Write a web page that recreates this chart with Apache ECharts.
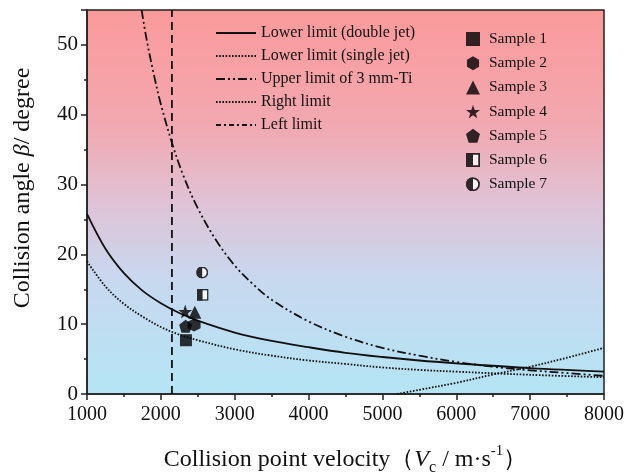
<!DOCTYPE html>
<html>
<head>
<meta charset="utf-8">
<script src="https://cdn.jsdelivr.net/npm/echarts@6/dist/echarts.min.js"></script>
<style>
html,body{margin:0;padding:0;background:#fff;}
#chart{width:627px;height:473px;}
</style>
</head>
<body>
<div id="chart"></div>
<script>
// ---- data ----
const xTicks = [1000, 2000, 3000, 4000, 5000, 6000, 7000, 8000];
const yTicks = [0, 10, 20, 30, 40, 50];

const vDouble = [1000, 1250, 1500, 1750, 2000, 2250, 2500, 3000, 3500, 4000, 4500, 5000, 5500, 6000, 7000, 8000];
const betaDouble = [25.8, 20.8, 17.3, 14.8, 13.0, 11.6, 10.5, 8.8, 7.6, 6.7, 5.9, 5.3, 4.8, 4.4, 3.7, 3.2];

const vSingle = [1000, 1250, 1500, 1750, 2000, 2250, 2500, 3000, 3500, 4000, 4500, 5000, 5500, 6000, 7000, 8000];
const betaSingle = [19.0, 15.4, 12.9, 11.1, 9.6, 8.5, 7.7, 6.4, 5.5, 4.8, 4.3, 3.8, 3.45, 3.2, 2.75, 2.4];

const vUpper = [1740, 1800, 1900, 2000, 2150, 2300, 2500, 2750, 3000, 3250, 3500, 4000, 4500, 5000, 5500, 6000, 6500, 7000, 7500, 8000];
const betaUpper = [55, 51.2, 46.0, 41.5, 36.0, 31.4, 26.6, 22.0, 18.4, 15.7, 13.5, 10.4, 8.2, 6.6, 5.5, 4.6, 3.9, 3.4, 3.0, 2.6];

const vRight = [5200, 5500, 6000, 6500, 7000, 7500, 8000];
const betaRight = [0, 0.6, 1.6, 2.8, 3.9, 5.2, 6.6];

const vLeft = [2150, 2150];
const betaLeft = [0, 55];

const sampleNames = ['Sample 1', 'Sample 2', 'Sample 3', 'Sample 4', 'Sample 5', 'Sample 6', 'Sample 7'];
const sampleV = [2340, 2450, 2460, 2330, 2335, 2565, 2560];
const sampleBeta = [7.7, 9.9, 11.7, 11.8, 9.7, 14.2, 17.4];

const lineNames = ['Lower limit (double jet)', 'Lower limit (single jet)', 'Upper limit of 3 mm-Ti', 'Right limit', 'Left limit'];

// ---- helpers ----
const zip = (xs, ys) => xs.map((x, i) => [x, ys[i]]);
const FONT = '"Liberation Serif", "Times New Roman", serif';

const halfSquare = 'image://data:image/svg+xml;utf8,' + encodeURIComponent(
  "<svg xmlns='http://www.w3.org/2000/svg' width='24' height='24' viewBox='0 0 24 24'>" +
  "<rect x='1.5' y='1.5' width='21' height='21' fill='white' stroke='black' stroke-width='3'/>" +
  "<rect x='0' y='0' width='12' height='24' fill='black'/></svg>");
const halfCircle = 'image://data:image/svg+xml;utf8,' + encodeURIComponent(
  "<svg xmlns='http://www.w3.org/2000/svg' width='24' height='24' viewBox='0 0 24 24'>" +
  "<circle cx='12' cy='12' r='10.5' fill='white' stroke='black' stroke-width='3'/>" +
  "<path d='M12 0 A12 12 0 0 0 12 24 Z' fill='black'/></svg>");

const sampleSymbols = [
  'rect',
  'path://M50,0 L93.3,25 L93.3,75 L50,100 L6.7,75 L6.7,25 Z',
  'triangle',
  'path://M50,0 L61.8,35.1 L98.1,35.1 L68.8,56.8 L79.4,91.9 L50,70.4 L20.6,91.9 L31.2,56.8 L1.9,35.1 L38.2,35.1 Z',
  'path://M50,0 L100,38 L81,100 L19,100 L0,38 Z',
  halfSquare,
  halfCircle
];
const sampleSizes = [12, 13, 13, 14, 13, 12, 12];

const lineStyles = [
  {type: 'solid', width: 1.8},
  {type: [1.6, 1.6], width: 1.8},
  {type: [9, 3, 2, 3, 2, 3], width: 1.8},
  {type: [1.6, 1.6], width: 1.8},
  {type: [8, 5], width: 1.8}
];
const lineData = [
  zip(vDouble, betaDouble),
  zip(vSingle, betaSingle),
  zip(vUpper, betaUpper),
  zip(vRight, betaRight),
  zip(vLeft, betaLeft)
];

const series = [];
lineNames.forEach((n, i) => {
  series.push({
    name: n, type: 'line', data: lineData[i],
    symbol: 'none',
    smooth: i < 4 ? 0.35 : false,
    lineStyle: Object.assign({color: '#111'}, lineStyles[i]),
    itemStyle: {color: '#111'}, z: 2, clip: true
  });
});
sampleNames.forEach((n, i) => {
  series.push({
    name: n, type: 'scatter', data: [[sampleV[i], sampleBeta[i]]],
    symbol: sampleSymbols[i], symbolSize: sampleSizes[i],
    itemStyle: {color: '#000'}, z: 5
  });
});

const chart = echarts.init(document.getElementById('chart'), null, {renderer: 'canvas'});
chart.setOption({
  animation: false,
  backgroundColor: '#fff',
  textStyle: {fontFamily: FONT, color: '#111'},
  grid: {
    left: 87, right: 23, top: 10, bottom: 79, show: true,
    outerBoundsMode: 'none', containLabel: false,
    borderColor: '#222', borderWidth: 1.5,
    backgroundColor: new echarts.graphic.LinearGradient(0, 0, 0, 1, [
      {offset: 0, color: '#fb9a9b'},
      {offset: 0.3, color: '#f2a8b0'},
      {offset: 0.5, color: '#e0c2d5'},
      {offset: 0.7, color: '#c8d8ef'},
      {offset: 1, color: '#b4e5f5'}
    ])
  },
  legend: [
    {
      data: lineNames.map((n, i) => i === 4
        ? {name: n, lineStyle: {type: [5, 3, 2, 3], width: 1.8, color: '#111'}}
        : {name: n}),
      itemStyle: {opacity: 0, color: 'rgba(0,0,0,0)', borderWidth: 0},
      orient: 'vertical', left: 210, top: 20, itemWidth: 40, itemHeight: 14, itemGap: 7,
      textStyle: {fontFamily: FONT, fontSize: 16, lineHeight: 14, color: '#111'}, selectedMode: false
    },
    {
      data: sampleNames, orient: 'vertical', left: 461, top: 26, itemWidth: 14, itemHeight: 14, itemGap: 8.2,
      textStyle: {fontFamily: FONT, fontSize: 15.5, lineHeight: 14, color: '#111', padding: [0, 0, 0, 4]}, selectedMode: false
    }
  ],
  xAxis: {
    type: 'value', min: xTicks[0], max: xTicks[xTicks.length - 1], interval: 1000,
    name: '{t|Collision point velocity（}{i|V}{sub|c}{t| / m·s}{sup|-1}{t|）}',
    nameLocation: 'middle', nameGap: 50,
    nameTextStyle: {
      rich: {
        t: {fontFamily: FONT, fontSize: 24, color: '#111', lineHeight: 32},
        i: {fontFamily: FONT, fontSize: 24, fontStyle: 'italic', color: '#111', lineHeight: 32},
        sub: {fontFamily: FONT, fontSize: 16, color: '#111', verticalAlign: 'bottom', lineHeight: 27},
        sup: {fontFamily: FONT, fontSize: 15, color: '#111', verticalAlign: 'top', lineHeight: 32}
      }
    },
    axisLine: {show: true, lineStyle: {color: '#222', width: 1.5}},
    axisTick: {show: true, inside: false, length: 6, lineStyle: {color: '#222', width: 1.5}},
    minorTick: {show: true, splitNumber: 2, length: 3, lineStyle: {color: '#222', width: 1.5}},
    splitLine: {show: false},
    axisLabel: {fontFamily: FONT, fontSize: 20, color: '#111', margin: 11, formatter: v => String(v)}
  },
  yAxis: {
    type: 'value', min: yTicks[0], max: 55, interval: 10,
    name: '{t|Collision angle }{i|β}{t|/ degree}',
    nameLocation: 'middle', nameGap: 52,
    nameTextStyle: {
      padding: [0, 0, 0, 28],
      rich: {
        t: {fontFamily: FONT, fontSize: 24, color: '#111'},
        i: {fontFamily: FONT, fontSize: 24, fontStyle: 'italic', color: '#111'}
      }
    },
    axisLine: {show: true, lineStyle: {color: '#222', width: 1.5}},
    axisTick: {show: true, inside: false, length: 6, lineStyle: {color: '#222', width: 1.5}},
    minorTick: {show: true, splitNumber: 2, length: 3, lineStyle: {color: '#222', width: 1.5}},
    splitLine: {show: false},
    axisLabel: {fontFamily: FONT, fontSize: 21, color: '#111', margin: 9, showMaxLabel: false, formatter: v => String(v)}
  },
  series: series
});
</script>
</body>
</html>
